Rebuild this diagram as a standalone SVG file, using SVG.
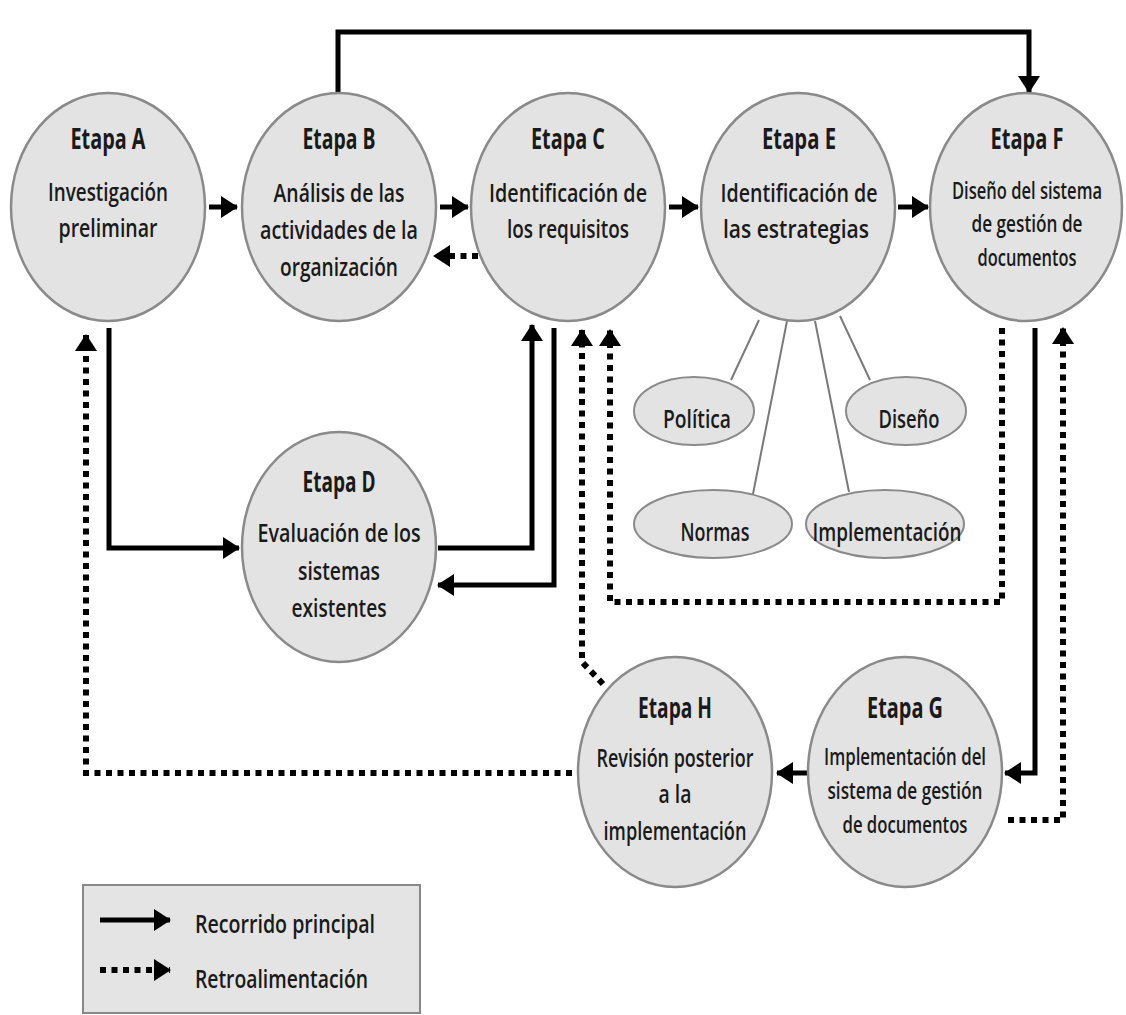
<svg xmlns="http://www.w3.org/2000/svg" width="1126" height="1015" viewBox="0 0 1126 1015">
<defs>
<style>
.n{fill:#e3e3e3;stroke:#8a8a8a;stroke-width:2.5}
.s{fill:#e3e3e3;stroke:#8a8a8a;stroke-width:2}
.t{font-family:"Open Sans","Liberation Sans",sans-serif;font-weight:700;font-size:28px;fill:#1a1a1a;text-anchor:middle}
.b{font-family:"Open Sans","Liberation Sans",sans-serif;font-weight:600;font-size:25.5px;fill:#1a1a1a;text-anchor:middle}
.b2{font-family:"Open Sans","Liberation Sans",sans-serif;font-weight:600;font-size:23.5px;fill:#1a1a1a;text-anchor:middle}
.l{font-family:"Open Sans","Liberation Sans",sans-serif;font-weight:600;font-size:25px;fill:#1a1a1a}
.m{fill:none;stroke:#000;stroke-width:5}
.f{fill:none;stroke:#000;stroke-width:6;stroke-dasharray:6 5.5}
.k{stroke:#7a7a7a;stroke-width:2;fill:none}
</style>
<marker id="ah" markerUnits="userSpaceOnUse" markerWidth="20" markerHeight="22" refX="16" refY="11" orient="auto">
<path d="M0,0 L17,11 L0,22 z" fill="#000"/>
</marker>
</defs>
<rect width="1126" height="1015" fill="#fff"/>
<g id="connectors">
<path class="m" d="M338,93 L338,32 L1029,32 L1029,92" marker-end="url(#ah)"/>
<path class="m" d="M209,207 L237,207" marker-end="url(#ah)"/>
<path class="m" d="M440,207 L468,207" marker-end="url(#ah)"/>
<path class="f" d="M478,256 L434,256" marker-end="url(#ah)"/>
<path class="m" d="M669,207 L698,207" marker-end="url(#ah)"/>
<path class="m" d="M898,207 L928,207" marker-end="url(#ah)"/>
<path class="m" d="M109,328 L109,548 L239,548" marker-end="url(#ah)"/>
<path class="m" d="M438,548 L532,548 L532,325" marker-end="url(#ah)"/>
<path class="m" d="M554,328 L554,585 L438,585" marker-end="url(#ah)"/>
<path class="f" d="M572,773 L86,773 L86,335" marker-end="url(#ah)"/>
<path class="f" d="M1002,328 L1002,602 L610,602 L610,330" marker-end="url(#ah)"/>
<path class="f" d="M603,684 L582,662 L582,330" marker-end="url(#ah)"/>
<path class="m" d="M1035,328 L1035,773 L1005,773" marker-end="url(#ah)"/>
<path class="f" d="M1008,820 L1063,820 L1063,328" marker-end="url(#ah)"/>
<path class="m" d="M808,773 L777,773" marker-end="url(#ah)"/>
<path class="k" d="M759,320 L731,380 M787,321 L753,494 M815,321 L849,492 M840,316 L870,380"/>
</g>
<g id="etapaA">
<ellipse class="n" cx="108" cy="207" rx="97" ry="114"/>
<text class="t" x="108" y="149" textLength="75" lengthAdjust="spacingAndGlyphs">Etapa A</text>
<text class="b" x="108" y="201" textLength="120" lengthAdjust="spacingAndGlyphs">Investigación</text>
<text class="b" x="108" y="237" textLength="99" lengthAdjust="spacingAndGlyphs">preliminar</text>
</g>
<g id="etapaB">
<ellipse class="n" cx="339" cy="207" rx="97" ry="114"/>
<text class="t" x="339" y="149" textLength="73" lengthAdjust="spacingAndGlyphs">Etapa B</text>
<text class="b" x="339" y="202" textLength="131" lengthAdjust="spacingAndGlyphs">Análisis de las</text>
<text class="b" x="339" y="239" textLength="158" lengthAdjust="spacingAndGlyphs">actividades de la</text>
<text class="b" x="339" y="276" textLength="118" lengthAdjust="spacingAndGlyphs">organización</text>
</g>
<g id="etapaC">
<ellipse class="n" cx="568" cy="207" rx="97" ry="114"/>
<text class="t" x="568" y="149" textLength="74" lengthAdjust="spacingAndGlyphs">Etapa C</text>
<text class="b" x="568" y="202" textLength="158" lengthAdjust="spacingAndGlyphs">Identificación de</text>
<text class="b" x="568" y="238" textLength="122" lengthAdjust="spacingAndGlyphs">los requisitos</text>
</g>
<g id="etapaE">
<ellipse class="n" cx="798" cy="207" rx="97" ry="114"/>
<text class="t" x="799" y="149" textLength="74" lengthAdjust="spacingAndGlyphs">Etapa E</text>
<text class="b" x="799" y="202" textLength="157" lengthAdjust="spacingAndGlyphs">Identificación de</text>
<text class="b" x="796" y="238" textLength="146" lengthAdjust="spacingAndGlyphs">las estrategias</text>
</g>
<g id="etapaF">
<ellipse class="n" cx="1026" cy="207" rx="96" ry="114"/>
<text class="t" x="1027" y="149" textLength="73" lengthAdjust="spacingAndGlyphs">Etapa F</text>
<text class="b2" x="1027" y="199" textLength="150" lengthAdjust="spacingAndGlyphs">Diseño del sistema</text>
<text class="b2" x="1027" y="232" textLength="111" lengthAdjust="spacingAndGlyphs">de gestión de</text>
<text class="b2" x="1027" y="266" textLength="99" lengthAdjust="spacingAndGlyphs">documentos</text>
</g>
<g id="etapaD">
<ellipse class="n" cx="339" cy="547" rx="97" ry="115"/>
<text class="t" x="339" y="492" textLength="73" lengthAdjust="spacingAndGlyphs">Etapa D</text>
<text class="b" x="339" y="542" textLength="163" lengthAdjust="spacingAndGlyphs">Evaluación de los</text>
<text class="b" x="339" y="580" textLength="82" lengthAdjust="spacingAndGlyphs">sistemas</text>
<text class="b" x="339" y="617" textLength="95" lengthAdjust="spacingAndGlyphs">existentes</text>
</g>
<g id="etapaH">
<ellipse class="n" cx="675" cy="772" rx="97" ry="115"/>
<text class="t" x="675" y="718" textLength="74" lengthAdjust="spacingAndGlyphs">Etapa H</text>
<text class="b" x="675" y="767" textLength="157" lengthAdjust="spacingAndGlyphs">Revisión posterior</text>
<text class="b" x="675" y="803" textLength="33" lengthAdjust="spacingAndGlyphs">a la</text>
<text class="b" x="675" y="840" textLength="143" lengthAdjust="spacingAndGlyphs">implementación</text>
</g>
<g id="etapaG">
<ellipse class="n" cx="905" cy="772" rx="97" ry="115"/>
<text class="t" x="905" y="718" textLength="76" lengthAdjust="spacingAndGlyphs">Etapa G</text>
<text class="b2" x="905" y="765" textLength="162" lengthAdjust="spacingAndGlyphs">Implementación del</text>
<text class="b2" x="905" y="799" textLength="155" lengthAdjust="spacingAndGlyphs">sistema de gestión</text>
<text class="b2" x="905" y="833" textLength="125" lengthAdjust="spacingAndGlyphs">de documentos</text>
</g>
<g id="politica">
<ellipse class="s" cx="694" cy="411" rx="60" ry="34"/>
<text class="b" x="697" y="428" textLength="68" lengthAdjust="spacingAndGlyphs">Política</text>
</g>
<g id="diseno">
<ellipse class="s" cx="906" cy="411" rx="60" ry="34"/>
<text class="b" x="909" y="428" textLength="61" lengthAdjust="spacingAndGlyphs">Diseño</text>
</g>
<g id="normas">
<ellipse class="s" cx="713" cy="524" rx="79" ry="34"/>
<text class="b" x="715" y="541" textLength="69" lengthAdjust="spacingAndGlyphs">Normas</text>
</g>
<g id="implementacion">
<ellipse class="s" cx="885" cy="524" rx="79" ry="34"/>
<text class="b" x="887" y="541" textLength="149" lengthAdjust="spacingAndGlyphs">Implementación</text>
</g>
<g id="legend">
<rect x="83" y="885" width="337" height="128" fill="#e4e4e4" stroke="#888" stroke-width="2"/>
<path class="m" d="M100,920 L170,920" stroke-width="7" marker-end="url(#ah)"/>
<path class="f" d="M100,970 L170,970" marker-end="url(#ah)"/>
<text class="l" x="195" y="933" textLength="180" lengthAdjust="spacingAndGlyphs">Recorrido principal</text>
<text class="l" x="195" y="988" textLength="173" lengthAdjust="spacingAndGlyphs">Retroalimentación</text>
</g>
</svg>
